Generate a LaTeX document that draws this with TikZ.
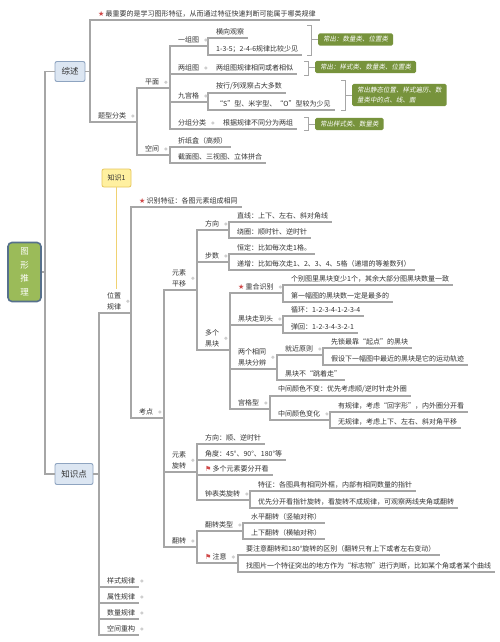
\documentclass[tikz,border=0pt]{standalone}
\usepackage{fontspec}
\setmainfont{Noto Sans CJK SC}
\newfontfamily\symf{DejaVu Sans}
\newfontfamily\cjkit[FakeSlant=0.18]{Noto Sans CJK SC}
\usetikzlibrary{calc}
\definecolor{lnc}{HTML}{A6A6A6}
\definecolor{txc}{HTML}{333333}
\definecolor{gc}{HTML}{77933C}
\definecolor{rootf}{HTML}{9BBB59}
\definecolor{rootd}{HTML}{56708C}
\definecolor{bluef}{HTML}{DCE6F2}
\definecolor{blued}{HTML}{8EA4C0}
\definecolor{yelf}{HTML}{FFF0A0}
\definecolor{yeld}{HTML}{E6C65C}
\definecolor{yell}{HTML}{F0D272}
\definecolor{starc}{HTML}{D04848}
\tikzset{
  tx/.style={font=\fontsize{7}{9}\selectfont, text=txc, inner xsep=4pt, inner ysep=2.6pt, anchor=south west, align=left},
  txtwo/.style={tx, font=\fontsize{7}{11.5}\selectfont, align=center},
  ln/.style={draw=lnc, line width=1.1pt},
  bk/.style={draw=lnc, line width=0.8pt},
  gbox/.style={fill=gc, text=white, font=\cjkit\fontsize{6.5}{10}\selectfont, rounded corners=1.5pt, inner xsep=5pt, inner ysep=3pt, anchor=west, align=left},
  cdot/.style={fill=lnc!55},
}
\newcommand\kid[4]{\node[tx] (#1) at ({#2+4},#3) {#4};}
\newcommand\kidtwo[4]{\node[txtwo] (#1) at ({#2+4},#3) {#4};}
\newcommand\lk[3]{\draw[ln] (#1.south east) -- (#1.south east -| #2) |- (#3.south east);}
\newcommand\lkbox[3]{\draw[ln] (#1.east) -- (#1.east -| #2) |- (#3.south east);}
\newcommand\cd[1]{\fill[cdot] ($(#1.east)+(2.5,0)$) circle (1.7);}
\newcommand\brk[4]{\draw[bk] ({#2-4},#3) -- (#2,#3) -- (#2,#4) -- ({#2-4},#4);
  \draw[bk] (#2,0 |- #1.west) -- (#1.west);}
\newcommand\flagsym{{\symf\color{starc}\char"2691}\,}
\newcommand\starsym{{\symf\color{starc}\char"2605}\,}
\begin{document}
\begin{tikzpicture}[x=1pt,y=-1pt]
\useasboundingbox (0,0) rectangle (500,642);
\fill[white] (0,0) rectangle (500,642);
% vertical coordinates
\coordinate (V0) at (45,0);
\coordinate (V1) at (90,0);
\coordinate (V2) at (137,0);
\coordinate (V3) at (170,0);
\coordinate (V4) at (208,0);
\coordinate (V7) at (215,0);
\coordinate (V9) at (99,0);
\coordinate (V10) at (131,0);
\coordinate (V11) at (164,0);
\coordinate (V12) at (197,0);
\coordinate (V13) at (229,0);
\coordinate (V15) at (230,0);
\coordinate (V16) at (283,0);
\coordinate (V18) at (277,0);
\coordinate (V19) at (323,0);
\coordinate (V20) at (270,0);
\coordinate (V21) at (330,0);
\coordinate (V23) at (250,0);
\coordinate (V25) at (243,0);
\coordinate (V26) at (238,0);

% root and main boxes
\node[fill=rootf, draw=rootd, line width=1.6pt, rounded corners=4pt, minimum width=33pt, minimum height=59pt, text=white, font=\fontsize{8.5}{13.5}\selectfont, align=center, inner sep=0pt] (root) at (24.5,272) {图\\形\\推\\理};
\node[fill=bluef, draw=blued, line width=0.9pt, rounded corners=2pt, minimum width=30pt, minimum height=20pt, text=txc, font=\fontsize{8.5}{10}\selectfont, inner sep=0pt] (zs) at (70,71.5) {综述};
\node[fill=bluef, draw=blued, line width=0.9pt, rounded corners=2pt, minimum width=38pt, minimum height=21pt, text=txc, font=\fontsize{8.5}{10}\selectfont, inner sep=0pt] (zsd) at (74,474) {知识点};
\draw[ln] (root.east) -- (root.east -| V0) |- (zs.west);
\draw[ln] (root.east -| V0) |- (zsd.west);

% ===== 综述 branch
\kid{a1}{90}{20}{\starsym 最重要的是学习图形特征，从而通过特征快速判断可能属于哪类规律}
\kid{a2}{90}{122}{题型分类}
\lkbox{zs}{V1}{a1}
\lkbox{zs}{V1}{a2}
\kid{b1}{137}{88}{平面}
\kid{b2}{137}{155}{空间}
\lk{a2}{V2}{b1}
\lk{a2}{V2}{b2}
\kid{c1}{170}{46}{一组图}
\kid{c2}{170}{74}{两组图}
\kid{c3}{170}{102}{九宫格}
\kid{c4}{170}{129}{分组分类}
\foreach \c in {c1,c2,c3,c4} {\lk{b1}{V3}{\c}}
\kid{d11}{208}{38}{横向观察}
\kid{d12}{208}{55}{1-3-5；2-4-6规律比较少见}
\lk{c1}{V4}{d11}
\lk{c1}{V4}{d12}
\kid{d21}{208}{74}{两组图规律相同或者相似}
\lk{c2}{V4}{d21}
\kid{d31}{208}{93}{按行/列观察占大多数}
\kid{d32}{208}{110}{“S”型、米字型、“O”型较为少见}
\lk{c3}{V4}{d31}
\lk{c3}{V4}{d32}
\kid{d41}{215}{129}{根据规律不同分为两组}
\lk{c4}{V7}{d41}
\kid{e1}{170}{147}{折纸盒（高频）}
\kid{e2}{170}{163}{截面图、三视图、立体拼合}
\lk{b2}{V3}{e1}
\lk{b2}{V3}{e2}
% callouts
\node[gbox] (g1) at (318,39.5) {常出：数量类、位置类};
\node[gbox] (g2) at (315,67) {常出：样式类、数量类、位置类};
\node[gbox] (g3) at (352,95) {常出静态位置、样式遍历、数\\量类中的点、线、面};
\node[gbox] (g4) at (315,124) {常出样式类、数量类};
\brk{g1}{311}{25}{55}
\brk{g2}{308}{61}{75}
\brk{g3}{345}{80}{110}
\brk{g4}{308}{117}{130}

% ===== 知识点 branch
\kidtwo{kw}{99}{313}{位置\\规律}
\kid{ks1}{99}{587}{样式规律}
\kid{ks2}{99}{603}{属性规律}
\kid{ks3}{99}{619}{数量规律}
\kid{ks4}{99}{635}{空间重构}
\foreach \c in {kw,ks1,ks2,ks3,ks4} {\lkbox{zsd}{V9}{\c}}
\foreach \c in {ks1,ks2,ks3,ks4} {\cd{\c}}
% 知识1 callout
\node[fill=yelf, draw=yeld, line width=0.8pt, rounded corners=2pt, minimum width=29pt, minimum height=18pt, text=txc, font=\fontsize{7}{9}\selectfont, inner sep=0pt] (kn) at (116.5,178) {知识1};
\draw[yell, line width=1.6pt] (kn.south) -- (kn.south |- kw.north);

\kid{p1}{131}{207}{\starsym 识别特征：各图元素组成相同}
\kid{p2}{131}{418}{考点}
\lk{kw}{V10}{p1}
\lk{kw}{V10}{p2}
\kidtwo{q1}{164}{290}{元素\\平移}
\kidtwo{q2}{164}{472}{元素\\旋转}
\kid{q3}{164}{547}{翻转}
\lk{p2}{V11}{q1}
\lk{p2}{V11}{q2}
\lk{p2}{V11}{q3}
% 元素平移
\kid{r1}{197}{230}{方向}
\kid{r2}{197}{262}{步数}
\kidtwo{r3}{197}{350}{多个\\黑块}
\lk{q1}{V12}{r1}
\lk{q1}{V12}{r2}
\lk{q1}{V12}{r3}
\kid{s11}{229}{222}{直线：上下、左右、斜对角线}
\kid{s12}{229}{238}{绕圈：顺时针、逆时针}
\lk{r1}{V13}{s11}
\lk{r1}{V13}{s12}
\kid{s21}{229}{254}{恒定：比如每次走1格。}
\kid{s22}{229}{270}{递增：比如每次走1、2、3、4、5格（递增的等差数列）}
\lk{r2}{V13}{s21}
\lk{r2}{V13}{s22}
\kid{t1}{230}{293}{\starsym 重合识别}
\kid{t2}{230}{325}{黑块走到头}
\kidtwo{t3}{230}{369}{两个相同\\黑块分辨}
\kid{t4}{230}{409}{宫格型}
\foreach \c in {t1,t2,t3,t4} {\lk{r3}{V15}{\c}}
\kid{u11}{283}{285}{个别图里黑块变少1个，其余大部分图黑块数量一致}
\kid{u12}{283}{302}{第一幅图的黑块数一定是最多的}
\lk{t1}{V16}{u11}
\lk{t1}{V16}{u12}
\kid{u21}{283}{316}{循环：1-2-3-4-1-2-3-4}
\kid{u22}{283}{333}{弹回：1-2-3-4-3-2-1}
\lk{t2}{V16}{u21}
\lk{t2}{V16}{u22}
\kid{u31}{277}{355}{就近原则}
\kid{u32}{277}{380}{黑块不“跳着走”}
\lk{t3}{V18}{u31}
\lk{t3}{V18}{u32}
\kid{w1}{323}{348}{先锁最靠“起点”的黑块}
\kid{w2}{323}{365}{假设下一幅图中最近的黑块是它的运动轨迹}
\lk{u31}{V19}{w1}
\lk{u31}{V19}{w2}
\kid{u41}{270}{396}{中间颜色不变：优先考虑顺/逆时针走外圈}
\kid{u42}{270}{420}{中间颜色变化}
\lk{t4}{V20}{u41}
\lk{t4}{V20}{u42}
\kid{w3}{330}{412}{有规律，考虑“回字形”，内外圈分开看}
\kid{w4}{330}{428}{无规律，考虑上下、左右、斜对角平移}
\lk{u42}{V21}{w3}
\lk{u42}{V21}{w4}
% 元素旋转
\kid{x1}{197}{444}{方向：顺、逆时针}
\kid{x2}{197}{460}{角度：45°、90°、180°等}
\kid{x3}{197}{475}{\flagsym 多个元素要分开看}
\kid{x4}{197}{500}{钟表类旋转}
\foreach \c in {x1,x2,x3,x4} {\lk{q2}{V12}{\c}}
\kid{y1}{250}{491}{特征：各图具有相同外框，内部有相同数量的指针}
\kid{y2}{250}{508}{优先分开看指针旋转，看旋转不成规律，可观察两线夹角或翻转}
\lk{x4}{V23}{y1}
\lk{x4}{V23}{y2}
% 翻转
\kid{z1}{197}{531}{翻转类型}
\kid{z2}{197}{563}{\flagsym 注意}
\lk{q3}{V12}{z1}
\lk{q3}{V12}{z2}
\kid{z11}{243}{523}{水平翻转（竖轴对称）}
\kid{z12}{243}{539}{上下翻转（横轴对称）}
\lk{z1}{V25}{z11}
\lk{z1}{V25}{z12}
\kid{z21}{238}{555}{要注意翻转和180°旋转的区别（翻转只有上下或者左右变动）}
\kid{z22}{238}{572}{找图片一个特征突出的地方作为“标志物”进行判断，比如某个角或者某个曲线}
\lk{z2}{V26}{z21}
\lk{z2}{V26}{z22}
% collapse dots on parents
\foreach \c in {a2,b1,b2,c1,c2,c3,c4,kw,p2,q1,q2,q3,r1,r2,r3,t1,t2,t3,t4,u31,u42,x4,z1,z2} {\cd{\c}}
\end{tikzpicture}
\end{document}
